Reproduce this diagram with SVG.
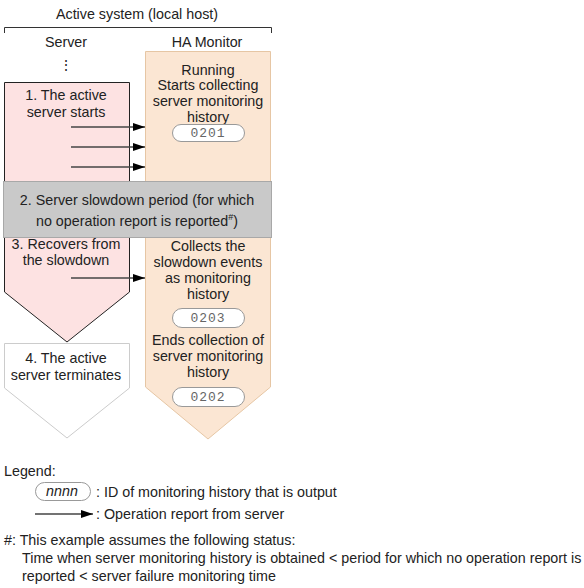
<svg xmlns="http://www.w3.org/2000/svg" width="584" height="588" viewBox="0 0 584 588">
<defs>
<style>
text{font-family:"Liberation Sans",Arial,sans-serif;font-size:14.3px;fill:#222}
.c{text-anchor:middle}
.id{font-family:"Liberation Mono","Courier New",monospace;font-size:13px;fill:#666;text-anchor:middle;letter-spacing:1px}
.pill{fill:#fff;stroke:#999;stroke-width:1}
.arr{stroke:#444;stroke-width:1.5;fill:none;marker-end:url(#ah)}
</style>
<marker id="ah" viewBox="0 0 12 8" refX="12" refY="4" markerWidth="12" markerHeight="8" markerUnits="userSpaceOnUse" orient="auto">
<path d="M0,0 L12,4 L0,8 z" fill="#000"/>
</marker>
</defs>
<rect width="584" height="588" fill="#fff"/>
<g id="header">
<text class="c" x="137" y="19">Active system (local host)</text>
<path d="M4.5,33 V27.5 H271.5 V33" fill="none" stroke="#333" stroke-width="1"/>
<text class="c" x="66" y="47">Server</text>
<text class="c" x="207" y="47">HA Monitor</text>
<text class="c" x="66" y="70">⋮</text>
</g>
<g id="ha-monitor">
<path d="M145.5,51.5 H270.5 V387 L208,439 L145.5,387 Z" fill="#fbe6d3" stroke="#e6c6a4" stroke-width="1"/>
<text class="c" x="208" y="75">Running</text>
<text class="c" x="208" y="90">Starts collecting</text>
<text class="c" x="208" y="106">server monitoring</text>
<text class="c" x="208" y="122">history</text>
<rect class="pill" x="172.5" y="124.5" width="72" height="17" rx="8.5"/>
<text class="id" x="208" y="137">0201</text>
<text class="c" x="208" y="251">Collects the</text>
<text class="c" x="208" y="267">slowdown events</text>
<text class="c" x="208" y="283">as monitoring</text>
<text class="c" x="208" y="299">history</text>
<rect class="pill" x="172.5" y="308.5" width="72" height="19" rx="9.5"/>
<text class="id" x="208" y="322">0203</text>
<text class="c" x="208" y="345">Ends collection of</text>
<text class="c" x="208" y="361">server monitoring</text>
<text class="c" x="208" y="377">history</text>
<rect class="pill" x="172.5" y="387.5" width="72" height="19" rx="9.5"/>
<text class="id" x="208" y="401">0202</text>
</g>
<g id="server-start">
<path d="M4.5,82.5 H129.5 V182 H4.5 Z" fill="#fde2e2" stroke="#222" stroke-width="1"/>
<text class="c" x="66" y="100">1. The active</text>
<text class="c" x="66" y="117">server starts</text>
</g>
<g id="server-recover">
<path d="M4.5,237 H129.5 V292 L67,342 L4.5,292 Z" fill="#fde2e2" stroke="#222" stroke-width="1"/>
<text class="c" x="66" y="249">3. Recovers from</text>
<text class="c" x="66" y="265">the slowdown</text>
</g>
<g id="slowdown">
<rect x="3.5" y="181.5" width="268" height="56" fill="#c9c9c9" stroke="#a8a8a8" stroke-width="1"/>
<text class="c" x="137" y="205">2. Server slowdown period (for which</text>
<text class="c" x="137" y="226">no operation report is reported<tspan font-size="9" dy="-6">#</tspan><tspan dy="6">)</tspan></text>
</g>
<g id="server-end">
<path d="M4.5,343.5 H129.5 V388 L67,438 L4.5,388 Z" fill="#fff" stroke="#ccc" stroke-width="1"/>
<text class="c" x="66" y="363">4. The active</text>
<text class="c" x="66" y="380">server terminates</text>
</g>
<g id="connectors">
<line class="arr" x1="71" y1="127" x2="145" y2="127"/>
<line class="arr" x1="71" y1="147" x2="145" y2="147"/>
<line class="arr" x1="71" y1="167" x2="145" y2="167"/>
<line class="arr" x1="71" y1="278" x2="145" y2="278"/>
</g>
<g id="legend">
<text x="4" y="476">Legend:</text>
<rect class="pill" x="35.5" y="482.5" width="55" height="18" rx="9"/>
<text x="62" y="496" class="c" font-style="italic" font-size="13">nnnn</text>
<text x="96" y="497">: ID of monitoring history that is output</text>
<line class="arr" x1="35" y1="514" x2="93" y2="514"/>
<text x="96" y="519">: Operation report from server</text>
<text x="4" y="545">#: This example assumes the following status:</text>
<text x="22" y="563">Time when server monitoring history is obtained &lt; period for which no operation report is</text>
<text x="22" y="581">reported &lt; server failure monitoring time</text>
</g>
</svg>
